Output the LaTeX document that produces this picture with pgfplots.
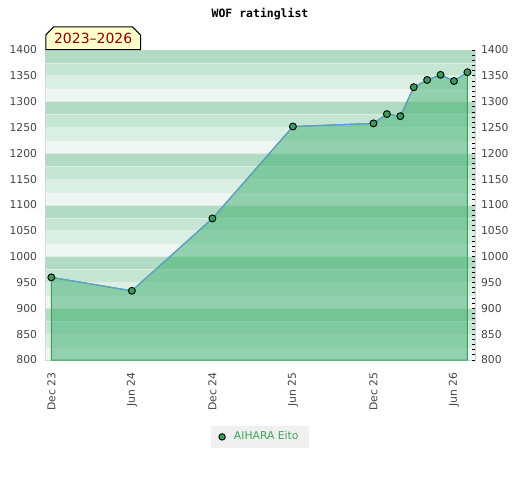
\documentclass[border=0pt]{standalone}
\usepackage{pgfplots}
\pgfplotsset{compat=1.18}
\usepackage{fontspec}
\setmainfont{DejaVu Sans}
\newfontfamily\monob{DejaVu Sans Mono}
\usetikzlibrary{shapes.misc}
\definecolor{bandA}{RGB}{177,220,195}
\definecolor{bandB}{RGB}{198,230,212}
\definecolor{bandC}{RGB}{218,239,227}
\definecolor{bandD}{RGB}{238,247,242}
\definecolor{bandline}{RGB}{226,236,230}
\definecolor{areagreen}{RGB}{57,173,107}
\definecolor{edgegreen}{RGB}{58,160,90}
\definecolor{markgreen}{RGB}{52,160,90}
\definecolor{lineblue}{RGB}{91,157,214}
\definecolor{ticktext}{RGB}{68,68,68}
\definecolor{frame}{RGB}{210,210,210}
\definecolor{legtext}{RGB}{58,165,90}
\definecolor{legbg}{RGB}{240,240,240}
\definecolor{boxfill}{RGB}{255,255,204}
\definecolor{boxtext}{RGB}{139,0,0}
\newcommand\band[3]{\fill[#3] (axis cs:-5,#1) rectangle (axis cs:40,#2);}
\newcommand\bline[1]{\draw[bandline, line width=0.6pt] (axis cs:-5,#1) -- (axis cs:40,#1);}
\begin{document}
\begin{tikzpicture}
\useasboundingbox (0,0) rectangle (390pt,360pt);
\node[font=\monob\bfseries\fontsize{8.6}{10}\selectfont, text={RGB:red,51;green,51;blue,51}] at (195pt,349.5pt) {WOF ratinglist};
\begin{axis}[
  name=main,
  at={(34.3pt,90pt)}, anchor=south west,
  scale only axis, width=322pt, height=232.5pt,
  xmin=-0.417, xmax=31.57, ymin=800, ymax=1400,
  axis line style={frame},
  xtick={0,6,12,18,24,30},
  xticklabels={Dec 23,Jun 24,Dec 24,Jun 25,Dec 25,Jun 26},
  ytick={800,850,...,1400},
  major tick length=0pt,
  /pgf/number format/assume math mode=true,
  /pgf/number format/1000 sep={},
  tick label style={font=\fontsize{8.1}{9.5}\selectfont, text=ticktext},
  xticklabel style={rotate=90, anchor=east},
  xticklabel shift=6pt,
  yticklabel style={xshift=-3pt},
  ytick pos=left, xtick pos=bottom,
  legend style={at={(0.4992,-0.248)}, anchor=center, fill=legbg, draw=none,
    font=\fontsize{8.1}{9.5}\selectfont, text=legtext, inner xsep=6pt, inner ysep=2.5pt,
    column sep=4.5pt},
  legend cell align=left,
]
\band{1375}{1400}{bandA}\band{1350}{1375}{bandB}\band{1325}{1350}{bandC}\band{1300}{1325}{bandD}
\band{1275}{1300}{bandA}\band{1250}{1275}{bandB}\band{1225}{1250}{bandC}\band{1200}{1225}{bandD}
\band{1175}{1200}{bandA}\band{1150}{1175}{bandB}\band{1125}{1150}{bandC}\band{1100}{1125}{bandD}
\band{1075}{1100}{bandA}\band{1050}{1075}{bandB}\band{1025}{1050}{bandC}\band{1000}{1025}{bandD}
\band{975}{1000}{bandA}\band{950}{975}{bandB}\band{925}{950}{bandC}\band{900}{925}{bandD}
\band{875}{900}{bandA}\band{850}{875}{bandB}\band{825}{850}{bandC}\band{800}{825}{bandD}
\bline{1375}\bline{1350}\bline{1325}\bline{1300}\bline{1275}\bline{1250}\bline{1225}\bline{1200}
\bline{1175}\bline{1150}\bline{1125}\bline{1100}\bline{1075}\bline{1050}\bline{1025}\bline{1000}
\bline{975}\bline{950}\bline{925}\bline{900}\bline{875}\bline{850}\bline{825}
\addplot[fill=areagreen, fill opacity=0.5, draw=edgegreen, line width=0.75pt, forget plot]
  coordinates {(0,960) (6,934) (12,1074) (18,1252) (24,1258) (25,1276) (26,1272) (27,1328) (28,1342) (29,1352) (30,1340) (31,1357)} \closedcycle;
\addplot[lineblue, line width=0.8pt, mark=*, mark size=2.6pt,
  mark options={fill=markgreen, draw=black, line width=0.7pt}, forget plot]
  coordinates {(0,960) (6,934) (12,1074) (18,1252) (24,1258) (25,1276) (26,1272) (27,1328) (28,1342) (29,1352) (30,1340) (31,1357)};
\addlegendimage{only marks, mark=*, mark size=2.4pt, mark options={fill=markgreen, draw=black, line width=0.7pt}}
\addlegendentry{AIHARA Eito}
\end{axis}
\begin{axis}[
  at={(34.3pt,90pt)}, anchor=south west,
  scale only axis, width=322pt, height=232.5pt,
  xmin=-0.417, xmax=31.57, ymin=800, ymax=1400,
  axis y line*=right, axis x line=none,
  axis line style={frame},
  ytick={800,850,...,1400},
  minor y tick num=4,
  tick align=inside,
  major tick length=2.5pt, minor tick length=2.5pt,
  every tick/.style={black, line width=0.7pt},
  /pgf/number format/assume math mode=true,
  /pgf/number format/1000 sep={},
  tick label style={font=\fontsize{8.1}{9.5}\selectfont, text=ticktext},
  yticklabel style={xshift=1pt},
]
\addplot[draw=none, forget plot] coordinates {(0,800)};
\end{axis}
\node[chamfered rectangle, chamfered rectangle corners={north west,north east},
  chamfered rectangle xsep=3pt, chamfered rectangle ysep=3pt,
  draw=black, line width=0.75pt, fill=boxfill, text=boxtext,
  minimum width=71pt, minimum height=17pt, inner sep=1pt, anchor=south west,
  font=\fontsize{10.5}{12}\selectfont] at (34pt,322.5pt) {2023--2026};
\end{tikzpicture}
\end{document}
